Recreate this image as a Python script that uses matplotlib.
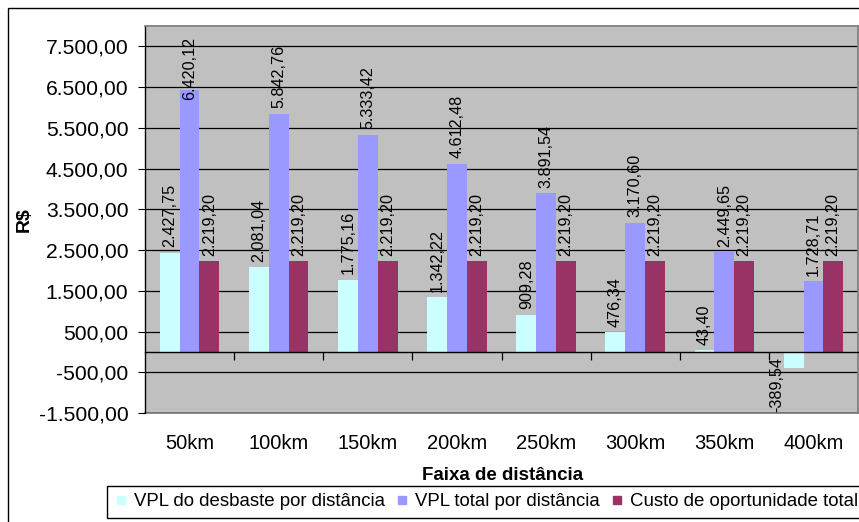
import numpy as np
import matplotlib.pyplot as plt
import matplotlib
from matplotlib.lines import Line2D
from matplotlib.patches import Rectangle

matplotlib.rcParams['font.family'] = ['Liberation Sans', 'DejaVu Sans']

# dados por faixa de distância
categories = ['50km', '100km', '150km', '200km', '250km', '300km', '350km', '400km']
vpl_desbaste = [2427.75, 2081.04, 1775.16, 1342.22, 909.28, 476.34, 43.40, -389.54]
vpl_total = [6420.12, 5842.76, 5333.42, 4612.48, 3891.54, 3170.60, 2449.65, 1728.71]
custo_oport = [2219.20, 2219.20, 2219.20, 2219.20, 2219.20, 2219.20, 2219.20, 2219.20]
series_names = ['VPL do desbaste por distância', 'VPL total por distância',
                'Custo de oportunidade total']
colors = ['#CCFFFF', '#9999FF', '#993366']


def fmt_br(v):
    s = f'{v:,.2f}'
    return s.replace(',', 'X').replace('.', ',').replace('X', '.')


fig = plt.figure(figsize=(8.59, 5.22), dpi=100)
ax = fig.add_axes([145 / 859, 1 - 413 / 522, 713 / 859, 387 / 522])
ax.set_facecolor('#C0C0C0')

x = np.arange(len(categories))
barWidth = 1 / 4.5
series = [vpl_desbaste, vpl_total, custo_oport]
labels = []
for i, (vals, c) in enumerate(zip(series, colors)):
    pos = x + (i - 1) * barWidth
    ax.bar(pos, vals, width=barWidth, color=c, edgecolor='none', zorder=2)
    for px, v in zip(pos, vals):
        if v >= 0:
            t = ax.annotate(fmt_br(v), (px, v), xytext=(0, 4), textcoords='offset points',
                            rotation=90, ha='center', va='bottom', fontsize=11.6, zorder=4)
        else:
            # rótulo negativo fica ao lado da barra, logo abaixo do eixo
            t = ax.annotate(fmt_br(v), (px, 0), xytext=(-12, -3.5), textcoords='offset points',
                            rotation=90, ha='center', va='top', fontsize=11.6, zorder=4)
        labels.append((t, px))

ax.set_xlim(-0.5, len(categories) - 0.5)
ax.set_ylim(-1500, 8000)
yt = np.arange(-1500, 7501, 1000)
ax.set_yticks(yt, [fmt_br(v) for v in yt])
ax.tick_params(axis='y', labelsize=15.2, length=5, width=0.8, pad=7, color='black')
ax.yaxis.grid(True, color='black', linewidth=0.9)
ax.set_axisbelow(True)

# eixo de categorias cruzando em zero, com marcas entre os grupos
ax.spines['bottom'].set_position(('data', 0))
ax.spines['bottom'].set_linewidth(1.0)
ax.set_xticks(np.arange(0.5, len(categories) - 0.5, 1))
ax.tick_params(axis='x', length=6, width=0.9, direction='out', labelbottom=False)
ax.spines['bottom'].set_zorder(3)

for s in ['top', 'right']:
    ax.spines[s].set_color('#808080')
    ax.spines[s].set_linewidth(1.3)
ax.spines['left'].set_color('black')
ax.spines['left'].set_linewidth(1.0)

sec = ax.secondary_xaxis('bottom')
sec.set_xticks(x, categories)
sec.tick_params(length=0, pad=15, labelsize=14.5)
sec.spines['bottom'].set_color('#808080')
sec.spines['bottom'].set_linewidth(1.3)

ax.set_ylabel('R$', fontsize=14, fontweight='bold')
ax.yaxis.set_label_coords(-0.157, 0.5)
fig.text(503 / 859, 1 - 476 / 522, 'Faixa de distância', ha='center', va='center',
         fontsize=13.5, fontweight='bold')

# rótulos que passam do topo da área de plotagem descem para dentro dela
fig.canvas.draw()
r = fig.canvas.get_renderer()
ax_top = ax.get_window_extent(r).y1
for t, px in labels:
    bb = t.get_window_extent(r)
    if bb.y1 > ax_top - 11:
        t.xy = (px, ax.get_ylim()[1])
        t.set_position((0, -8))
        t.set_va('top')

handles = [Line2D([], [], marker='s', linestyle='', color=c, markersize=6) for c in colors]
leg = fig.legend(handles, series_names, ncol=3, loc='upper left',
                 bbox_to_anchor=(107 / 859, 1 - 486 / 522), fontsize=13.4,
                 frameon=True, fancybox=False, edgecolor='black', framealpha=1,
                 borderaxespad=0, borderpad=0.4, handlelength=0.7, handletextpad=0.35,
                 columnspacing=0.58)
leg.get_frame().set_linewidth(1.0)

fig.patches.append(Rectangle((8 / 859, -0.1), 1.2, 1.1 - 8 / 522, transform=fig.transFigure,
                             fill=False, edgecolor='black', linewidth=1.0))

plt.savefig('out.png', dpi=100)
